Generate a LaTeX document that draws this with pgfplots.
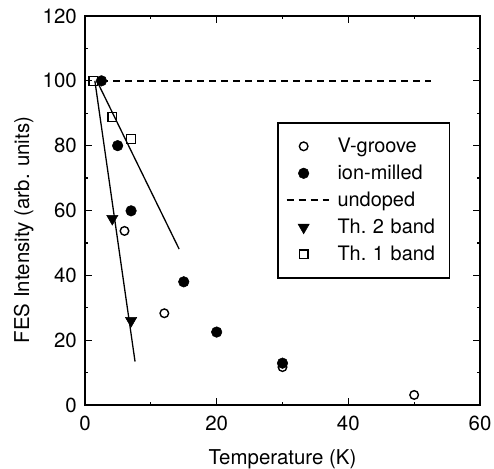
\documentclass[border=0pt]{standalone}
\usepackage{fontspec}
\setmainfont{TeX Gyre Heros}
\usepackage{pgfplots}
\pgfplotsset{compat=1.18}

\pgfplotsset{
  markleg/.style={legend image code/.code={%
    \path (0bp,0bp) (50bp,0bp);
    \draw[##1, only marks] plot coordinates {(17bp,0bp)};}},
  lineleg/.style={legend image code/.code={%
    \path (0bp,0bp) (50bp,0bp);
    \draw[##1] (0bp,0bp) -- (42bp,0bp);}},
}

\begin{document}
\begin{tikzpicture}[font=\fontsize{20.5}{24}\selectfont]
\path[use as bounding box] (-85bp,-64bp) rectangle (409bp,405bp);
\begin{axis}[
  at={(0,0)}, anchor=south west,
  scale only axis,
  width=395bp, height=389bp,
  xmin=0, xmax=60, ymin=0, ymax=120,
  xtick={0,20,40,60}, ytick={0,20,...,120},
  minor xtick={10,30,50}, minor ytick={10,30,...,110},
  tick align=inside,
  major tick length=7bp, minor tick length=3.5bp,
  axis line style={line width=1.6bp},
  every tick/.style={black, line width=1.2bp},
  tick label style={font=\fontsize{20.5}{24}\selectfont},
  /pgf/number format/assume math mode=true,
  xticklabel style={anchor=base, yshift=-25bp, inner sep=0pt},
  yticklabel style={anchor=east, xshift=-8bp, inner sep=0pt},
  xlabel={Temperature (K)},
  ylabel={FES Intensity (arb. units)},
  xlabel style={at={(axis description cs:0.5,-0.1517)}, anchor=base},
  ylabel style={at={(axis description cs:-0.155,0.45)}, anchor=center},
  legend cell align=left,
  legend style={at={(0.486,0.7275)}, anchor=north west, draw=black,
    line width=1.6bp, inner xsep=8bp, inner ysep=10bp, row sep=0pt,
    nodes={inner sep=0pt, text height=20bp, text depth=7bp,
      text width=104bp, align=left, font=\fontsize{20}{24}\selectfont}},
]
% V-groove
\addplot[only marks, mark=*, mark size=4.3bp,
  mark options={fill=white, draw=black, line width=1.4bp}, markleg]
  coordinates {(6.0,53.7) (12.05,28.3) (30,11.7) (50,3.1)};
\addlegendentry{V-groove}
% ion-milled
\addplot[only marks, mark=*, mark size=5.3bp,
  mark options={fill=black, draw=black, line width=0.5bp}, markleg]
  coordinates {(2.5,100) (4.96,80) (7.0,59.9) (15.0,38) (20,22.5) (30,12.9)};
\addlegendentry{ion-milled}
% undoped
\addplot[black, line width=1.8bp, dash pattern=on 7bp off 5bp, lineleg]
  coordinates {(2.5,100) (52.5,100)};
\addlegendentry{undoped}
% Th. 2 band
\addplot[only marks, mark=triangle*, mark size=6.5bp,
  mark options={fill=black, draw=black, rotate=180, line width=0.5bp}, markleg]
  coordinates {(4.15,57.5) (7.0,26)};
\addlegendentry{Th.\ 2 band}
% Th. 1 band
\addplot[only marks, mark=square, mark size=4.4bp,
  mark options={draw=black, line width=1.4bp}, markleg]
  coordinates {(1.26,100) (4.15,88.8) (7.0,82)};
\addlegendentry{Th.\ 1 band}
% fit lines
\addplot[black, line width=1.3bp, forget plot] coordinates {(1.5,100) (7.6,13.4)};
\addplot[black, line width=1.3bp, forget plot] coordinates {(1.8,100) (14.3,48.1)};
\end{axis}
\end{tikzpicture}
\end{document}
